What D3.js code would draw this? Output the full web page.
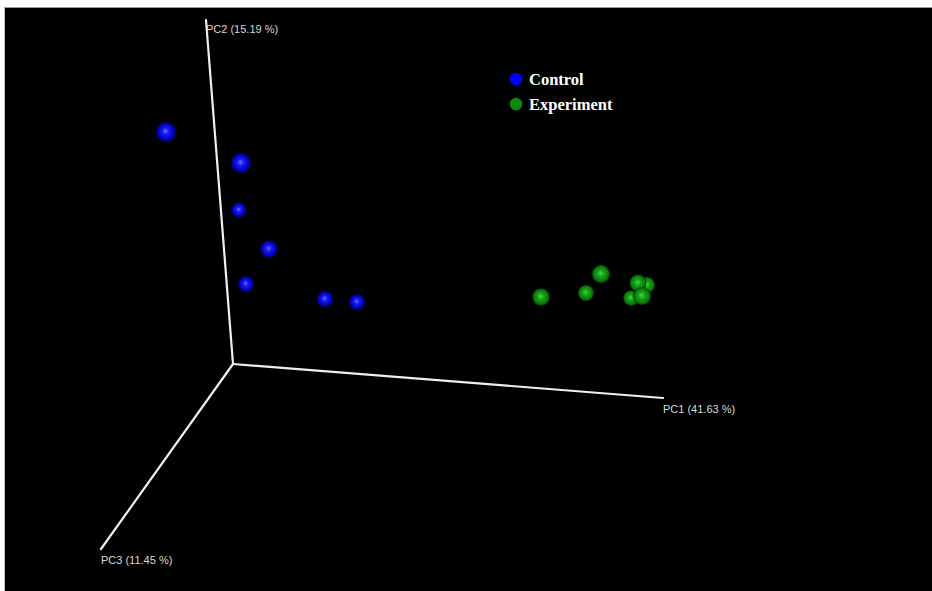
<!DOCTYPE html>
<html>
<head>
<meta charset="utf-8">
<script src="https://cdn.jsdelivr.net/npm/d3@7"></script>
<style>
  html, body { margin: 0; padding: 0; background: #fff; }
  svg { display: block; }
</style>
</head>
<body>
<svg id="chart" width="932" height="591"></svg>
<script>
// PCoA scores, expressed as fractions of each drawn axis length
const controlPC1 = [0.0144, 0.1842, 0.0638, 0.1782, 0.0880, 0.2701, 0.3444];
const controlPC2 = [0.8776, 0.8043, 0.4876, 0.4662, 0.3085, 0.2829, 0.2815];
const controlPC3 = [0.375, 0.375, 0.0625, 0.2125, 0.125, 0.125, 0.125];

const experimentPC1 = [0.8059, 0.8820, 0.9634, 1.0269, 1.0262, 1.0553, 0.9778];
const experimentPC2 = [0.3887, 0.3608, 0.4913, 0.4378, 0.3983, 0.4364, 0.3423];
const experimentPC3 = [0.2125, 0.125, 0.25, 0.1875, 0.125, 0.25, 0.10];

const axisLabels = ["PC1 (41.63 %)", "PC2 (15.19 %)", "PC3 (11.45 %)"];
const groups = ["Control", "Experiment"];

const svg = d3.select("#chart");
const W = 932, H = 591;

// black viewport
svg.append("rect").attr("x", 4).attr("y", 7).attr("width", W - 4).attr("height", H - 7)
  .attr("fill", "#000");
svg.append("line").attr("x1", 4).attr("x2", W).attr("y1", 7.5).attr("y2", 7.5)
  .attr("stroke", "#9a9a9a").attr("stroke-width", 1);
svg.append("line").attr("x1", 4.5).attr("x2", 4.5).attr("y1", 7).attr("y2", H)
  .attr("stroke", "#bdbdbd").attr("stroke-width", 1);

// oblique 3-D projection: origin and axis end points on screen
const origin = [233, 364];
const ends = [[663, 398], [206, 20], [101, 549]];

const sx = ends.map(e => d3.scaleLinear().domain([0, 1]).range([0, e[0] - origin[0]]));
const sy = ends.map(e => d3.scaleLinear().domain([0, 1]).range([0, e[1] - origin[1]]));
const rScale = d3.scaleLinear().domain([0, 1]).range([7, 15]);

function project(p) {
  return [
    origin[0] + sx[0](p[0]) + sx[1](p[1]) + sx[2](p[2]),
    origin[1] + sy[0](p[0]) + sy[1](p[1]) + sy[2](p[2])
  ];
}

// axes
const axisG = svg.append("g");
ends.forEach((e, i) => {
  const tip = project([i === 0 ? 1 : 0, i === 1 ? 1 : 0, i === 2 ? 1 : 0]);
  axisG.append("line")
    .attr("x1", origin[0]).attr("y1", origin[1])
    .attr("x2", tip[0]).attr("y2", tip[1])
    .attr("stroke", "#f0f0f0").attr("stroke-width", 2.2).attr("stroke-linecap", "round");
});
const labelPos = [[663, 413], [206, 33], [101, 564]];
axisLabels.forEach((t, i) => {
  axisG.append("text").attr("x", labelPos[i][0]).attr("y", labelPos[i][1])
    .attr("fill", "#d8d8d8").attr("font-family", "Liberation Sans, Arial, sans-serif")
    .attr("font-size", 11).text(t);
});

// sphere shading
const defs = svg.append("defs");
const shades = {
  Control: ["#6b6bff", "#1717f5", "#0000b8", "#00005a"],
  Experiment: ["#4fd24f", "#19a519", "#087a08", "#023a02"]
};
groups.forEach(g => {
  const grad = defs.append("radialGradient").attr("id", "sph-" + g)
    .attr("cx", "50%").attr("cy", "50%").attr("r", "50%")
    .attr("fx", "47%").attr("fy", "45%");
  const s = shades[g];
  grad.append("stop").attr("offset", "0%").attr("stop-color", s[0]);
  grad.append("stop").attr("offset", "35%").attr("stop-color", s[1]);
  grad.append("stop").attr("offset", "80%").attr("stop-color", s[2]);
  grad.append("stop").attr("offset", "100%").attr("stop-color", s[3]);
});

const points = [];
controlPC1.forEach((v, i) => points.push({ g: "Control", p: [v, controlPC2[i], controlPC3[i]] }));
experimentPC1.forEach((v, i) => points.push({ g: "Experiment", p: [v, experimentPC2[i], experimentPC3[i]] }));
// draw far points first
points.sort((a, b) => a.p[2] - b.p[2]);

svg.append("g").selectAll("circle").data(points).join("circle")
  .attr("cx", d => project(d.p)[0])
  .attr("cy", d => project(d.p)[1])
  .attr("r", d => rScale(d.p[2]))
  .attr("fill", d => "url(#sph-" + d.g + ")");

// legend
const legendColors = { Control: "#0000ff", Experiment: "#0a8a0a" };
const lg = svg.append("g");
groups.forEach((g, i) => {
  lg.append("circle").attr("cx", 516).attr("cy", 79 + i * 25).attr("r", 6.3)
    .attr("fill", legendColors[g]);
  lg.append("text").attr("x", 529).attr("y", 85 + i * 24.5)
    .attr("fill", "#fff").attr("font-family", "Liberation Serif, Times New Roman, serif")
    .attr("font-weight", "bold").attr("font-size", 16.5).text(g);
});
</script>
</body>
</html>
